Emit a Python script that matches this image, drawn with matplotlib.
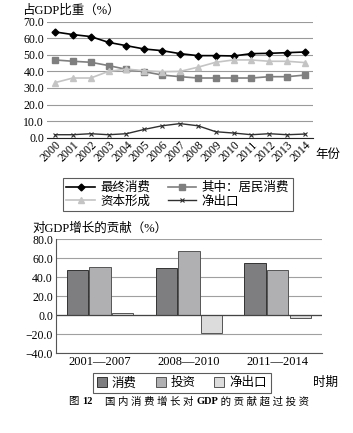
import numpy as np
import matplotlib.pyplot as plt
from matplotlib.text import Annotation

plt.rcParams['font.family'] = ['Liberation Serif', 'Noto Sans CJK SC']
plt.rcParams['font.size'] = 8.5

years = ['2000', '2001', '2002', '2003', '2004', '2005', '2006', '2007',
         '2008', '2009', '2010', '2011', '2012', '2013', '2014']
final_cons = [63.8, 62.2, 61.0, 57.5, 55.5, 53.5, 52.5, 50.7, 49.5, 49.5, 49.3, 50.7, 50.9, 51.3, 51.7]
household = [46.9, 46.1, 45.5, 43.5, 41.2, 39.8, 37.8, 36.8, 36.0, 36.0, 36.0, 36.0, 36.8, 36.8, 37.8]
capital = [33.2, 36.0, 36.0, 40.0, 41.4, 40.4, 39.8, 40.0, 42.5, 45.5, 46.9, 46.9, 46.1, 46.1, 45.3]
net_export = [1.8, 1.8, 2.4, 1.8, 2.4, 5.0, 7.2, 8.5, 7.2, 3.6, 2.8, 1.8, 2.4, 1.8, 2.2]

periods = ['2001—2007', '2008—2010', '2011—2014']
bar_cons = [47.5, 49.6, 54.9]
bar_inv = [50.7, 67.8, 47.5]
bar_net = [2.8, -18.2, -2.4]

fig = plt.figure(figsize=(3.53, 4.33), dpi=100)

# ---- top line chart
ax1 = fig.add_axes([0.133, 0.682, 0.754, 0.268])
x = np.arange(len(years))
l1, = ax1.plot(x, final_cons, color='black', marker='D', ms=3.5, lw=1.2)
l2, = ax1.plot(x, household, color='#7f7f7f', marker='s', ms=4, lw=1.2)
l3, = ax1.plot(x, capital, color='#c4c4c4', marker='^', ms=4, lw=1.2)
l4, = ax1.plot(x, net_export, color='#303030', marker='x', ms=3.5, lw=1.0, mew=0.8)
ax1.set_ylim(0, 70)
ax1.set_xlim(-0.45, 14.45)
ax1.set_yticks(np.arange(0, 71, 10))
ax1.set_yticklabels(['%.1f' % v for v in np.arange(0, 71, 10)])
ax1.yaxis.grid(True, color='#9a9a9a', lw=0.8)
ax1.set_axisbelow(True)
for s in ['top', 'right', 'left']:
    ax1.spines[s].set_visible(False)
ax1.spines['bottom'].set_color('#222222')
ax1.tick_params(axis='y', length=0, pad=2)
ax1.tick_params(axis='x', length=0, pad=1)
ax1.set_xticks(x)
ax1.set_xticklabels(years, rotation=45, ha='right', rotation_mode='anchor')
ax1.text(14.6, -10.5, '年份', fontsize=9, ha='left', va='center')
fig.text(0.062, 0.975, '占GDP比重（%）', fontsize=9, ha='left', va='center')

# column-wise fill -> rows: 最终消费 / 其中：居民消费, 资本形成 / 净出口
lg1 = fig.legend([l1, l3, l2, l4], ['最终消费', '资本形成', '其中：居民消费', '净出口'],
                 ncol=2, loc='center', bbox_to_anchor=(0.503, 0.55), fontsize=9,
                 frameon=True, fancybox=False, edgecolor='#333333', handlelength=2.3,
                 handletextpad=0.4, columnspacing=1.4, labelspacing=0.1,
                 borderpad=0.3)
lg1.get_frame().set_linewidth(0.8)

# ---- bar chart
ax2 = fig.add_axes([0.158, 0.184, 0.754, 0.263])
xb = np.arange(len(periods))
w = 0.24
b1 = ax2.bar(xb - 0.255, bar_cons, w, color='#7e7e80', edgecolor='#333333', lw=0.7)
b2 = ax2.bar(xb, bar_inv, w, color='#b0b0b2', edgecolor='#555555', lw=0.7)
b3 = ax2.bar(xb + 0.255, bar_net, w, color='#dcdcdc', edgecolor='#555555', lw=0.7)
ax2.set_ylim(-40, 80)
ax2.set_xlim(-0.5, 2.5)
ax2.set_yticks(np.arange(-40, 81, 20))
ax2.set_yticklabels(['%.1f' % v if v >= 0 else '−%.1f' % -v for v in np.arange(-40, 81, 20)])
ax2.yaxis.grid(True, color='#a0a0a0', lw=0.8)
ax2.set_axisbelow(True)
ax2.axhline(0, color='#444444', lw=0.9)
for s in ['top', 'right']:
    ax2.spines[s].set_visible(False)
ax2.spines['left'].set_color('#555555')
ax2.spines['bottom'].set_color('#555555')
ax2.tick_params(length=0, pad=2)
ax2.set_xticks(xb)
ax2.set_xticklabels(periods, fontsize=9)
fig.text(0.093, 0.473, '对GDP增长的贡献（%）', fontsize=9, ha='left', va='center')

lg2 = fig.legend([b1, b2, b3], ['消费', '投资', '净出口'], ncol=3, loc='center',
                 bbox_to_anchor=(0.515, 0.115), fontsize=9, frameon=True, fancybox=False,
                 edgecolor='#333333', handlelength=0.8, handleheight=0.8,
                 handletextpad=0.4, columnspacing=1.5, borderpad=0.3)
lg2.get_frame().set_linewidth(0.8)
fig.text(0.887, 0.115, '时期', fontsize=9, ha='left', va='center')

# caption: pieces chained one after the other so bold parts sit among CJK text
caption = [('图 ', 'normal'), ('12', 'bold'), ('　 国 内 消 费 增 长 对 ', 'normal'),
           ('GDP', 'bold'), (' 的 贡 献 超 过 投 资', 'normal')]
prev = fig.text(0.195, 0.072, caption[0][0], fontsize=7.5, ha='left', va='center')
for s, wgt in caption[1:]:
    prev = fig.add_artist(Annotation(s, xy=(1, 0.5), xycoords=prev, va='center',
                                     ha='left', fontsize=7.5, fontweight=wgt))

fig.savefig('out.png', dpi=100)
